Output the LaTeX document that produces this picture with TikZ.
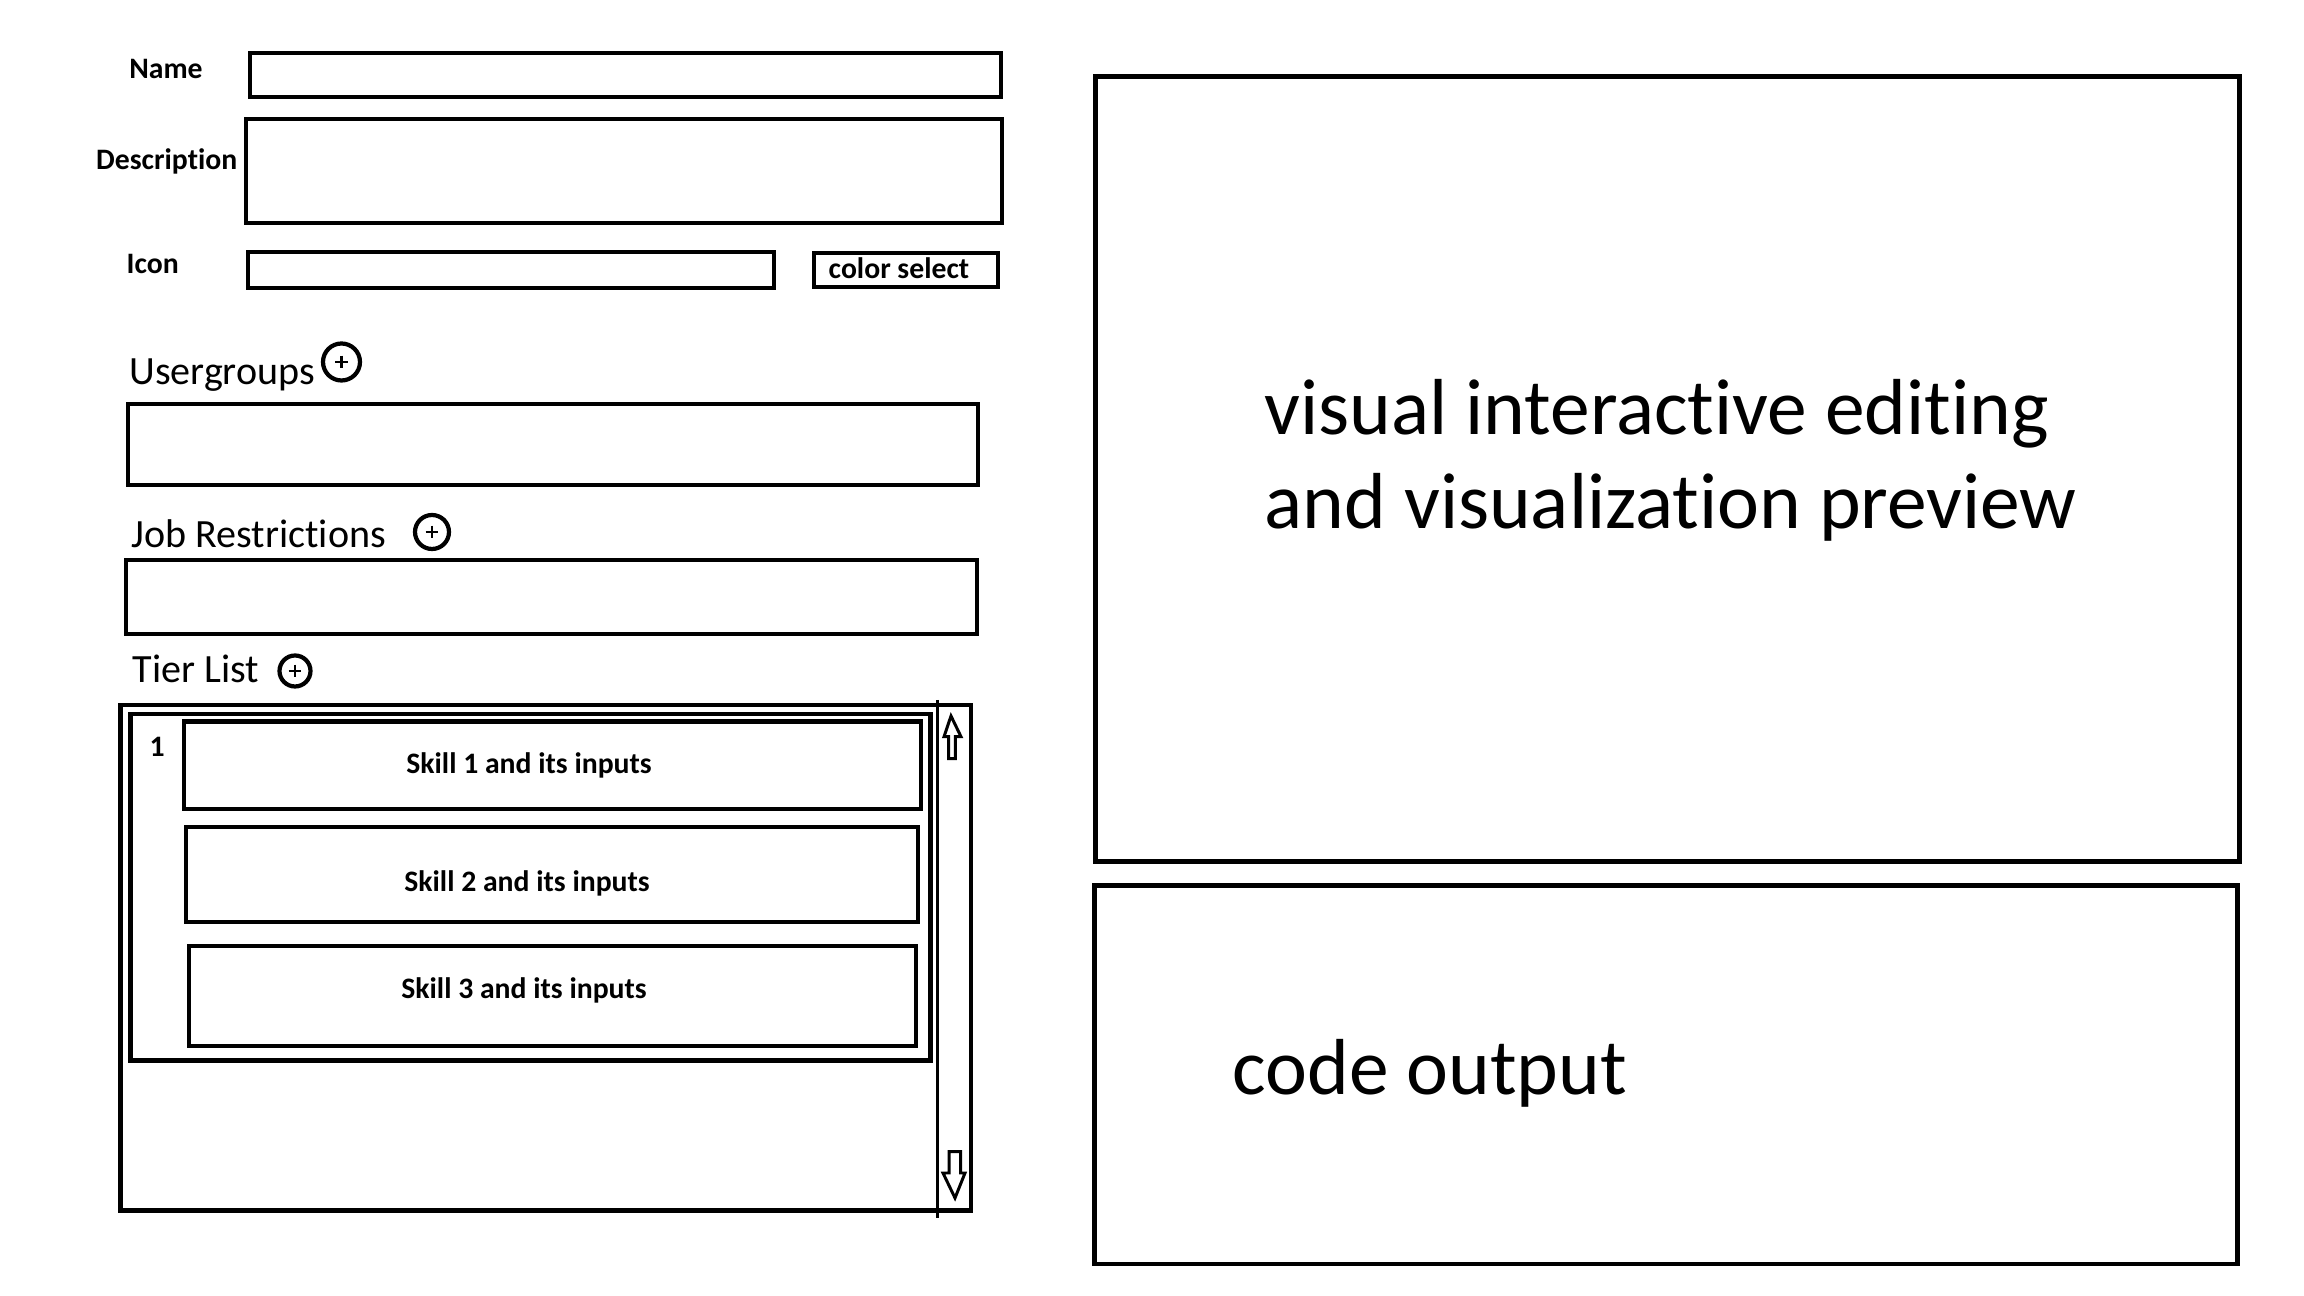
\documentclass[tikz,border=0pt]{standalone}
\usepackage{fontspec}
\setmainfont{Carlito}[Ligatures={NoCommon,NoContextual}]
\usetikzlibrary{positioning}

\begin{document}
\begin{tikzpicture}[x=0.1mm,y=-0.1mm,
    fieldbox/.style={line width=1.4pt},
    panelbox/.style={line width=1.42pt},
    lbl/.style={inner sep=0pt,font=\fontsize{8.45}{10}\selectfont\bfseries},
    hdr/.style={inner sep=0pt,font=\fontsize{11.4}{13}\selectfont},
    bigtxt/.style={inner sep=0pt,font=\fontsize{22.6}{27}\selectfont},
    addring/.style={line width=1.2pt},
    plusline/.style={line width=0.8pt},
    scrollarrow/.style={line width=0.85pt,line join=miter}]
            \useasboundingbox (0,0) rectangle (2304,1296);
            \fill[white] (0,0) rectangle (2304,1296);

            % top fields
            \node[lbl,anchor=base west] (name) at (128.6,78.5) {Name};
            \draw[fieldbox] (250,53) rectangle (1001,97);
            \node[lbl,anchor=base west] (desc) at (95.5,169.5) {Description};
            \draw[fieldbox] (246,119) rectangle (1002,223);
            \node[lbl,anchor=base west] (icon) at (126,274) {Icon};
            \draw[fieldbox] (248,252) rectangle (774,288);
            \draw[fieldbox] (814,253) rectangle (998,287);
            \node[lbl,anchor=base west] (colsel) at (828,279) {color select};

            % lists with add buttons
            \node[hdr,anchor=base west] (ug) at (128.6,385) {Usergroups};
            \draw[fieldbox] (128,404) rectangle (978,485);
            \node[hdr,anchor=base west] (jr) at (131,548) {Job Restrictions};
            \draw[fieldbox] (126,560) rectangle (977,634);
            \node[hdr,anchor=base west] (tl) at (132,683) {Tier List};
            \foreach \cx/\cy/\r in {341.5/362/18.5, 432/532/17, 295/671/15.5}{
                \draw[addring] (\cx,\cy) circle (\r);
                \draw[plusline] (\cx-6.3,\cy) -- (\cx+6.3,\cy) (\cx,\cy-6.3) -- (\cx,\cy+6.3);
            }

            % tier list with scrollbar
            \draw[fieldbox] (120.5,705) rectangle (971,1210.5);
            \draw[line width=0.85pt] (937,700) -- (937,1218);
            \draw[fieldbox] (130.5,714) rectangle (930.5,1060.5);
            \node[lbl,anchor=base west] (tierno) at (149,757) {1};
            \draw[fieldbox] (184,721.5) rectangle (921,809);
            \node[lbl,anchor=base] (skA) at (529,774) {Skill 1 and its inputs};
            \draw[fieldbox] (186,827) rectangle (918,922);
            \node[lbl,anchor=base] (skB) at (527,892) {Skill 2 and its inputs};
            \draw[fieldbox] (189,946) rectangle (916,1046);
            \node[lbl,anchor=base] (skC) at (524,999) {Skill 3 and its inputs};
            \draw[scrollarrow] (951,716) -- (961,736.7) -- (955.3,736.7) -- (955.3,758.7)
                -- (948.7,758.7) -- (948.7,736.7) -- (944,736.7) -- cycle;
            \draw[scrollarrow] (949,1151.7) -- (960.7,1151.7) -- (960.7,1173) -- (965,1173)
                -- (955,1198) -- (943,1173) -- (949,1173) -- cycle;

            % right panels
            \draw[panelbox] (1095.5,76.5) rectangle (2239.5,861.5);
            \node[bigtxt,anchor=base west,align=left] (preview) at (1264,529)
                {visual interactive editing\\and visualization preview};
            \draw[panelbox] (1094.5,885.5) rectangle (2237,1264);
            \node[bigtxt,anchor=base west] (code) at (1232,1095) {code output};
        \end{tikzpicture}
\end{document}
